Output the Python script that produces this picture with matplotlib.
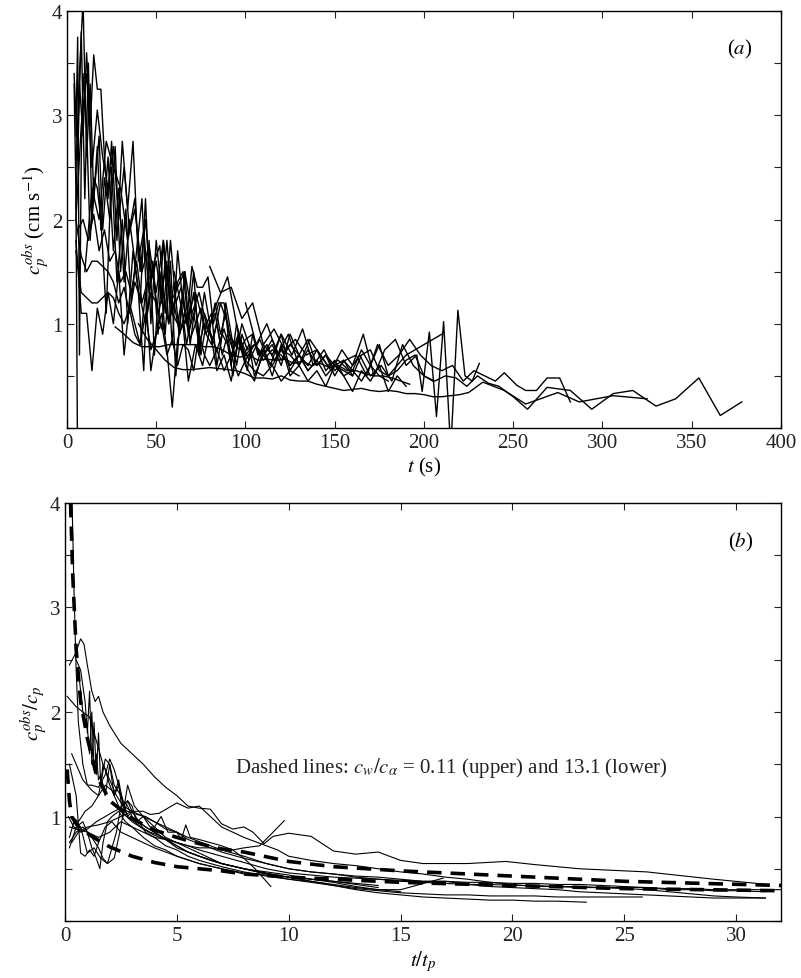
import matplotlib
matplotlib.use("Agg")
import matplotlib.pyplot as plt

plt.rcParams['font.family'] = ['Liberation Serif', 'DejaVu Serif']
plt.rcParams['mathtext.fontset'] = 'stix'
plt.rcParams['font.size'] = 13

# ---- panel (a): observed peak phase speed vs time ----
a_t = [
    [5, 7, 9, 11, 13, 15, 17, 19, 21, 24, 27, 30, 33, 36, 39, 42, 45, 48, 51, 54, 57, 60, 63, 66, 69, 72, 75, 78, 81, 84, 87, 90, 93, 96, 99, 102, 105, 110, 115, 120, 125, 130, 135, 140],
    [4, 5, 6],
    [5, 7, 9, 11, 13, 15, 17, 19, 21, 23, 25, 28, 31, 34, 37, 40, 43, 46, 49, 52, 55, 58, 61, 64, 67, 70, 73, 76, 79, 82, 85, 88, 91, 94, 97, 100, 104, 108, 112, 116, 120, 125, 130, 135, 140, 145, 150, 155, 160, 165, 170, 175, 180, 185, 190, 195, 200, 205, 210],
    [5, 8, 11, 14, 17, 20, 23, 26, 29, 32, 35, 38, 41, 44, 47, 50, 53, 56, 59, 62, 65, 68, 71, 74, 77, 80, 83, 86, 89, 92, 95, 98, 101, 105, 110, 115, 120, 125, 130, 135, 140, 145, 150, 155, 160, 165, 170, 175, 180],
    [5, 8, 11, 14, 17, 20, 23, 26, 29, 32, 35, 38, 41, 44, 47, 50, 53, 56, 59, 62, 65, 68, 71, 74, 77, 80, 84, 88, 92, 96, 100, 105, 110, 115, 120, 125, 130, 135, 140, 145, 150, 155, 160],
    [5, 8, 11, 14, 17, 20, 23, 26, 29, 32, 35, 38, 41, 44, 47, 50, 53, 56, 59, 62, 65, 68, 71, 74, 77, 80, 84, 88, 92, 96, 100, 105, 110, 115, 120, 125, 130],
    [5, 8, 11, 14, 17, 20, 23, 26, 29, 32, 35, 38, 41, 44, 47, 50, 53, 56, 59, 62, 65, 68, 72, 76, 80, 84, 88, 92, 96, 100, 105, 110, 115, 120, 125, 130, 135, 140, 145, 150, 155, 160, 165, 170, 175, 180, 185, 190],
    [27, 32, 37, 42, 47, 52, 57, 62, 67, 72, 77, 82, 87, 92, 97, 102, 107, 112, 117, 122, 127, 132, 137, 142, 147, 152, 157, 162, 167, 172, 177, 182, 187, 192],
    [40, 45, 50, 55, 60, 65, 70, 75, 80, 85, 90, 95, 100, 105, 110, 115, 120, 125, 130, 135, 140, 145, 150, 155, 160, 165, 170, 175, 180, 185, 190, 195, 200, 205, 210, 215, 220, 225, 233, 245, 257, 275, 287, 306, 325],
    [60, 66, 72, 78, 84, 90, 96, 102, 108, 114, 120, 126, 132, 138, 144, 150, 156, 162, 168, 174, 180, 186, 192, 198, 204, 210, 216, 222, 228, 234, 240, 245, 252, 257, 263, 269, 276, 282],
    [80, 86, 92, 98, 104, 110, 116, 122, 128, 134, 140, 146, 152, 158, 164, 170, 176, 182, 188, 194, 200, 206, 212, 218, 224, 230, 236, 242, 250, 258, 269, 282, 294, 306, 317, 330, 341, 354, 366, 378],
    [100, 106, 112, 118, 124, 130, 136, 142, 148, 154, 160, 166, 172, 178, 184, 190, 196, 199, 203, 207, 211, 215, 219, 223, 227, 231],
    [10, 14, 18, 22, 26, 30, 34, 38, 42, 46, 50, 54, 58, 62, 66, 70, 74, 78, 82, 86, 90, 94, 98, 102, 106, 110, 115, 120, 125, 130, 135, 140, 145, 150, 155, 160, 165, 170, 175, 180, 185, 190, 195, 200, 205],
    [4, 6, 8, 10, 12, 14, 16, 18, 20, 23, 26, 29, 32, 35, 38, 41, 44, 47, 50, 53, 56, 59, 62, 65, 68, 71, 74, 77, 80, 83, 86, 89, 92, 95, 98, 101, 104, 107, 110],
    [6, 9, 12, 15, 18, 21, 24, 27, 30, 33, 36, 39, 42, 45, 48, 51, 54, 57, 60, 63, 66, 69, 72, 75, 78, 81, 84, 87, 90, 93, 96, 100, 105, 110, 115, 120, 125, 130, 135],
    [5, 6, 7, 8, 9, 11, 13, 15, 17, 19, 22, 25, 28, 31, 34, 37, 40, 43, 46, 49, 52, 55, 58, 61, 64, 67, 70],
]
a_c = [
    [2.1, 3.4, 4.1, 2.6, 3.3, 2.2, 2.7, 1.9, 2.4, 2.0, 2.7, 1.5, 2.1, 1.2, 1.7, 2.2, 1.1, 1.6, 0.9, 1.8, 1.0, 1.4, 0.9, 1.5, 0.8, 1.2, 0.7, 1.0, 1.1, 0.6, 0.9, 0.8, 0.5, 0.9, 0.7, 0.8, 0.5, 0.7, 0.8, 0.6, 0.9, 0.7, 0.55, 0.65],
    [3.3, 2.3, -0.5],
    [2.5, 3.3, 2.8, 3.6, 2.9, 3.58, 3.25, 3.25, 2.6, 2.2, 2.75, 1.8, 2.75, 2.1, 2.75, 1.6, 1.9, 1.3, 1.6, 1.75, 1.1, 1.8, 1.2, 1.35, 1.0, 1.55, 1.35, 1.35, 1.45, 1.0, 1.2, 1.2, 0.9, 0.8, 0.75, 0.85, 0.9, 0.7, 0.8, 0.65, 0.75, 0.7, 0.6, 0.75, 0.6, 0.7, 0.6, 0.65, 0.5, 0.7, 0.75, 0.55, 0.5, 0.6, 0.7, 0.75, 0.8, 0.85, 0.9],
    [2.0, 2.9, 3.4, 2.5, 3.05, 2.6, 2.3, 2.7, 2.0, 2.5, 1.9, 2.2, 1.5, 2.0, 1.4, 1.6, 1.2, 1.8, 1.1, 1.4, 1.5, 1.0, 1.3, 0.9, 1.3, 1.0, 1.1, 0.8, 1.2, 0.9, 0.6, 0.9, 0.75, 0.8, 0.7, 0.85, 0.65, 0.8, 0.7, 0.6, 0.75, 0.55, 0.65, 0.5, 0.55, 0.45, 0.6, 0.5, 0.45],
    [2.0, 1.65, 1.5, 1.6, 1.6, 1.55, 1.5, 1.4, 1.2, 1.35, 1.1, 1.4, 1.25, 1.0, 1.3, 1.2, 0.95, 1.5, 1.1, 1.0, 1.3, 0.9, 1.1, 0.8, 1.0, 0.9, 0.75, 0.95, 0.7, 0.9, 0.65, 0.8, 0.7, 0.6, 0.75, 0.6, 0.7, 0.55, 0.65, 0.5, 0.6, 0.55, 0.5],
    [1.7, 1.3, 1.25, 1.2, 1.2, 1.25, 1.3, 1.25, 1.1, 1.0, 1.15, 0.9, 0.8, 1.1, 0.75, 0.9, 1.0, 0.7, 0.85, 0.6, 0.8, 0.75, 0.55, 0.9, 0.7, 0.6, 0.75, 0.55, 0.7, 0.5, 0.65, 0.55, 0.5, 0.6, 0.45, 0.55, 0.5],
    [1.8, 1.1, 1.1, 0.55, 1.15, 0.9, 1.3, 1.0, 1.5, 0.7, 1.2, 1.0, 0.8, 1.3, 0.55, 0.9, 1.1, 0.75, 0.2, 0.85, 1.0, 0.45, 0.8, 0.6, 0.95, 0.55, 0.7, 0.45, 0.85, 0.6, 0.45, 0.75, 0.5, 0.8, 0.5, 0.6, 0.45, 0.55, 0.4, 0.6, 0.5, 0.35, 0.55, 0.45, 0.6, 0.35, 0.5, 0.4],
    [0.97, 0.9, 0.82, 0.78, 0.78, 0.78, 0.8, 0.8, 0.8, 0.8, 0.78, 0.78, 0.75, 0.7, 0.68, 0.7, 0.65, 0.66, 0.65, 0.66, 0.62, 0.64, 0.6, 0.62, 0.58, 0.6, 0.55, 0.55, 0.52, 0.5, 0.5, 0.48, 0.45, 0.42],
    [1.0, 0.85, 0.75, 0.65, 0.58, 0.56, 0.56, 0.57, 0.58, 0.57, 0.56, 0.55, 0.52, 0.48, 0.48, 0.47, 0.5, 0.46, 0.45, 0.45, 0.42, 0.4, 0.38, 0.36, 0.37, 0.38, 0.36, 0.35, 0.36, 0.35, 0.33, 0.33, 0.32, 0.3, 0.3, 0.31, 0.32, 0.34, 0.44, 0.36, 0.23, 0.34, 0.25, 0.31, 0.28],
    [1.5, 1.0, 1.3, 0.9, 1.2, 1.45, 0.9, 0.65, 0.85, 0.6, 0.9, 0.7, 0.95, 0.6, 0.75, 0.55, 0.65, 0.7, 0.5, 0.8, 0.6, 0.7, 0.85, 0.7, 0.6, 0.55, 0.6, 0.45, 0.55, 0.5, 0.45, 0.53, 0.41, 0.36, 0.36, 0.48, 0.48, 0.25],
    [1.55, 1.3, 1.35, 1.05, 1.2, 0.8, 0.95, 0.75, 0.85, 0.7, 0.75, 0.6, 0.65, 0.55, 0.7, 0.5, 0.6, 0.45, 0.8, 0.6, 0.5, 0.45, 0.5, 0.48, 0.4, 0.5, 0.43, 0.4, 0.3, 0.18, 0.39, 0.36, 0.18, 0.33, 0.36, 0.21, 0.28, 0.48, 0.12, 0.25],
    [1.2, 0.8, 1.0, 0.7, 0.9, 0.6, 0.85, 0.7, 0.55, 0.75, 0.6, 0.9, 0.5, 0.75, 0.85, 0.6, 0.7, 0.35, 0.92, 0.11, 1.02, -0.2, 1.13, 0.5, 0.45, 0.62],
    [1.5, 2.3, 2.0, 2.75, 2.5, 2.3, 1.8, 2.1, 1.5, 1.75, 1.3, 1.8, 1.2, 1.35, 1.5, 1.1, 1.3, 1.0, 0.85, 1.2, 1.0, 0.65, 1.0, 0.8, 0.6, 0.8, 0.7, 0.9, 0.55, 0.7, 0.85, 0.6, 0.7, 0.5, 0.65, 0.55, 0.75, 0.6, 0.8, 0.5, 0.55, 0.65, 0.7, 0.5, 0.45],
    [3.4, 2.6, 3.8, 2.2, 3.5, 2.0, 2.4, 2.8, 1.9, 2.6, 1.7, 2.3, 1.4, 2.0, 1.6, 1.2, 2.2, 1.0, 1.8, 1.3, 1.6, 0.8, 1.7, 1.2, 1.0, 1.5, 0.7, 1.1, 0.95, 1.2, 0.9, 1.1, 0.6, 1.0, 0.8, 0.55, 0.9, 0.7, 0.75],
    [1.9, 2.0, 1.8, 2.05, 1.7, 1.9, 1.6, 1.7, 1.4, 1.5, 1.3, 1.6, 1.2, 1.4, 1.5, 1.1, 1.3, 1.0, 1.2, 0.9, 1.1, 0.85, 1.0, 1.15, 0.9, 0.8, 1.0, 0.7, 0.9, 0.75, 0.85, 0.7, 0.8, 0.65, 0.75, 0.7, 0.6, 0.7, 0.6],
    [2.8, 3.75, 0.7, 2.6, 3.4, 2.9, 1.8, 2.4, 2.3, 2.0, 1.1, 2.5, 1.4, 2.0, 1.0, 1.7, 1.3, 0.55, 1.8, 0.7, 1.5, 0.9, 1.6, 0.5, 1.2, 0.8, 1.1],
]

# ---- panel (b): normalised speed vs t/t_p ----
b_t = [
    [0.2, 0.45, 0.7, 0.85, 1.0, 1.2, 1.35, 1.5, 1.7, 2.0, 2.5, 3.0, 3.5, 4.0, 4.5, 5.0, 5.5, 6.0, 6.5, 7.0, 7.5, 8.0, 8.4, 8.9, 9.3, 10.0, 11.0, 12.0, 13.0, 14.0, 15.0, 16, 18, 19.7, 21, 23, 26, 29, 31.4],
    [0.2, 0.5, 1.0, 1.5, 2, 2.5, 3, 3.5, 4, 4.5, 5, 5.5, 6, 6.5, 7, 7.5, 8, 8.7, 9.3, 9.8],
    [0.1, 0.5, 0.8, 1.1, 1.3, 1.5, 1.7, 2.0, 2.3, 2.6, 3.0, 3.5, 4.0, 4.5, 5.0, 5.5, 6.0, 7, 8, 9, 10, 11, 12, 13, 14, 15, 16, 17, 18, 19, 20, 21, 22, 23, 24, 25, 26, 27, 28, 29, 30, 31.3],
    [0.5, 0.7, 0.9, 1.0, 1.1, 1.2, 1.3, 1.4, 1.5, 1.6, 1.7, 1.8, 2.0, 2.2, 2.4, 2.6, 2.8, 3.0, 3.3, 3.6, 4.0, 4.5, 5.0, 5.5, 6.0, 6.5, 7.0, 8, 9, 10, 11, 12, 13, 14],
    [0.3, 0.5, 0.8, 1.0, 1.2, 1.5, 1.8, 2.0, 2.2, 2.4, 2.6, 2.8, 3.0, 3.3, 3.6, 4.0, 4.5, 5.0, 5.5, 6, 7, 8, 9, 10, 11, 12, 13, 14, 15, 16, 17, 18, 19, 20, 21, 22, 23.3],
    [0.2, 0.5, 0.8, 1.0, 1.2, 1.5, 1.7, 1.9, 2.1, 2.3, 2.5, 2.8, 3.0, 3.3, 3.6, 4.0, 4.5, 5.0, 5.5, 6, 7, 8, 9, 10, 11, 12, 13, 14, 15, 16, 17, 18, 19, 20, 21, 22, 23, 24, 25, 25.8],
    [0.2, 0.4, 0.7, 1.0, 1.3, 1.6, 1.9, 2.2, 2.5, 2.8, 3.1, 3.5, 4.0, 4.5, 5, 5.5, 6, 6.5, 7, 8, 9, 10, 11, 12, 13, 14, 15, 16.9],
    [0.15, 0.4, 0.7, 1.0, 1.4, 1.8, 2.2, 2.5, 2.8, 3.2, 3.6, 4.0, 4.5, 5, 5.2, 5.4, 5.6, 6, 6.5, 7, 7.5, 8, 8.5, 9.2],
    [0.3, 0.6, 1.0, 1.5, 2.0, 2.5, 3.0, 3.5, 3.8, 4.2, 4.6, 5.0, 5.5, 6.0, 6.5, 7.0, 7.5, 8.0, 8.5, 9, 9.5, 10, 11, 12, 13, 14, 15, 16, 17, 18, 19, 20, 21, 22, 23, 24, 25, 26, 27, 28, 29, 30, 31.3],
    [0.6, 0.8, 1.0, 1.1, 1.2, 1.3, 1.4, 1.5, 1.6, 1.8, 2.0, 2.2, 2.4, 2.6, 2.8, 3.0, 3.2, 3.5, 3.8, 4.0, 4.3, 4.6, 5, 5.5, 6, 7, 8, 9, 10, 11, 12, 13, 14, 15, 16, 17, 18, 19, 20, 21, 22, 23, 24, 25, 26, 27, 28, 29, 30, 31, 32],
    [0.3, 0.6, 0.9, 1.2, 1.5, 1.8, 2.0, 2.2, 2.5, 2.8, 3.1, 3.4, 3.8, 4.2, 4.6, 5, 5.5, 6, 7, 8, 9, 10, 11, 12, 13, 14, 15, 16, 17, 18, 19, 20, 21, 22, 23, 24, 25, 26, 27, 28, 29, 30, 31.3],
    [0.3, 0.4, 0.5, 0.6, 0.8, 1.0, 1.2, 1.5, 1.8, 2.1, 2.5, 3, 3.5, 4, 4.5, 5, 6, 7, 8, 9, 10, 11, 12, 13, 14, 15],
    [0.2, 0.5, 0.8, 1.0, 1.2, 1.4, 1.56, 1.7, 1.9, 2.1, 2.4, 2.7, 3.0, 3.5, 4, 4.5, 5, 6, 7, 8],
    [0.2, 0.5, 0.7, 0.9, 1.1, 1.3, 1.5, 1.8, 2.1, 2.5, 3, 3.5, 4, 5, 6, 7, 8, 9, 10, 11, 12, 13, 14],
]
b_c = [
    [2.45, 2.55, 2.7, 2.65, 2.45, 2.2, 2.1, 2.15, 2.0, 1.87, 1.7, 1.6, 1.5, 1.38, 1.28, 1.2, 1.1, 1.08, 1.07, 0.93, 0.88, 0.9, 0.85, 0.74, 0.81, 0.84, 0.81, 0.67, 0.64, 0.66, 0.58, 0.55, 0.55, 0.57, 0.54, 0.5, 0.47, 0.4, 0.35],
    [0.9, 0.88, 0.85, 0.8, 0.85, 0.95, 0.9, 0.85, 0.8, 0.78, 0.75, 0.72, 0.7, 0.7, 0.68, 0.68, 0.7, 0.72, 0.85, 0.96],
    [2.15, 2.05, 2.0, 1.95, 1.8, 1.65, 1.5, 1.35, 1.2, 1.1, 1.05, 1.0, 0.95, 0.88, 0.85, 0.8, 0.76, 0.68, 0.62, 0.55, 0.5, 0.47, 0.45, 0.43, 0.42, 0.4, 0.38, 0.38, 0.35, 0.33, 0.32, 0.31, 0.3, 0.28, 0.27, 0.26, 0.25, 0.24, 0.23, 0.22, 0.22, 0.22],
    [2.5, 2.4, 2.1, 1.8, 2.2, 1.5, 1.9, 1.4, 1.8, 1.3, 1.5, 1.45, 1.3, 1.2, 1.35, 1.1, 1.0, 1.05, 0.95, 0.9, 0.85, 0.78, 0.72, 0.66, 0.62, 0.58, 0.55, 0.5, 0.47, 0.44, 0.4, 0.38, 0.35, 0.32],
    [1.6, 1.5, 1.35, 1.3, 1.3, 1.28, 1.4, 1.55, 1.45, 1.3, 1.15, 1.1, 1.0, 0.95, 0.9, 0.85, 0.78, 0.72, 0.66, 0.62, 0.55, 0.5, 0.46, 0.42, 0.38, 0.34, 0.3, 0.27, 0.25, 0.23, 0.22, 0.21, 0.2, 0.2, 0.19, 0.19, 0.18],
    [0.7, 0.9, 0.95, 0.85, 0.8, 0.7, 0.6, 0.55, 0.7, 0.85, 1.1, 1.15, 1.05, 0.95, 0.85, 0.8, 0.72, 0.68, 0.62, 0.58, 0.52, 0.47, 0.43, 0.4, 0.37, 0.34, 0.31, 0.29, 0.27, 0.26, 0.25, 0.25, 0.24, 0.24, 0.24, 0.23, 0.23, 0.23, 0.23, 0.23],
    [0.8, 0.95, 0.9, 0.65, 0.7, 0.6, 0.55, 0.6, 0.9, 1.3, 1.1, 1.0, 0.9, 0.8, 0.75, 0.7, 0.65, 0.6, 0.55, 0.5, 0.45, 0.4, 0.38, 0.35, 0.32, 0.3, 0.3, 0.41],
    [1.0, 0.9, 0.85, 0.88, 0.95, 1.0, 1.05, 1.08, 1.05, 1.02, 1.0, 0.95, 0.9, 0.85, 0.78, 0.92, 0.8, 0.78, 0.75, 0.72, 0.68, 0.6, 0.5, 0.33],
    [0.75, 0.85, 0.9, 0.92, 0.95, 1.0, 1.05, 1.05, 1.02, 1.03, 1.08, 1.13, 1.08, 1.1, 1.0, 0.9, 0.85, 0.8, 0.76, 0.72, 0.68, 0.62, 0.58, 0.55, 0.53, 0.5, 0.47, 0.45, 0.42, 0.4, 0.37, 0.35, 0.33, 0.33, 0.32, 0.32, 0.31, 0.3, 0.28, 0.26, 0.24, 0.23, 0.22],
    [2.4, 2.0, 1.85, 1.6, 2.0, 1.45, 1.6, 1.35, 1.4, 1.2, 1.5, 1.2, 1.3, 1.0, 1.15, 1.1, 0.95, 1.0, 0.9, 0.9, 1.0, 0.85, 0.85, 0.78, 0.74, 0.66, 0.6, 0.55, 0.5, 0.47, 0.45, 0.42, 0.4, 0.38, 0.37, 0.36, 0.35, 0.35, 0.34, 0.34, 0.33, 0.33, 0.32, 0.32, 0.32, 0.31, 0.31, 0.3, 0.3, 0.3, 0.3],
    [1.0, 0.95, 1.05, 1.1, 1.2, 1.55, 1.5, 1.3, 1.2, 1.0, 0.95, 0.9, 0.85, 0.82, 0.78, 0.75, 0.72, 0.68, 0.62, 0.56, 0.5, 0.46, 0.44, 0.42, 0.41, 0.4, 0.39, 0.38, 0.38, 0.37, 0.37, 0.36, 0.36, 0.35, 0.35, 0.34, 0.33, 0.32, 0.3, 0.3, 0.29, 0.29, 0.28],
    [4.2, 3.2, 2.4, 1.9, 1.5, 1.3, 1.25, 1.2, 1.3, 1.25, 1.05, 0.95, 0.88, 0.82, 0.78, 0.7, 0.62, 0.55, 0.5, 0.45, 0.42, 0.4, 0.37, 0.33, 0.3, 0.28],
    [0.75, 0.85, 0.9, 0.85, 0.7, 0.6, 0.5, 0.75, 0.95, 1.0, 1.05, 0.95, 0.9, 0.8, 0.72, 0.68, 0.62, 0.55, 0.5, 0.45],
    [1.5, 1.2, 0.65, 0.62, 0.68, 0.62, 0.75, 0.9, 0.95, 0.85, 0.8, 0.75, 0.7, 0.62, 0.55, 0.5, 0.46, 0.44, 0.42, 0.4, 0.38, 0.36, 0.34],
]

# model curves (dashed): c_w/c_alpha = 0.11 (upper) and 13.1 (lower)
up_t = [0.25, 0.35, 0.5, 0.7, 1.0, 1.4, 2, 3, 4, 5, 6, 7, 8, 10, 12, 15, 20, 25, 32]
up_c = [4.0, 3.3, 2.6, 2.1, 1.75, 1.4, 1.15, 0.98, 0.87, 0.8, 0.74, 0.69, 0.66, 0.57, 0.52, 0.48, 0.43, 0.38, 0.34]
lo_t = [0.1, 0.2, 0.3, 0.6, 1, 1.5, 2, 3, 4, 5, 6, 7, 8, 10, 12, 15, 20, 25, 32]
lo_c = [1.45, 1.15, 1.0, 0.9, 0.84, 0.77, 0.71, 0.62, 0.56, 0.52, 0.5, 0.48, 0.45, 0.42, 0.4, 0.37, 0.34, 0.31, 0.29]

yticks = [0, 0.5, 1, 1.5, 2, 2.5, 3, 3.5, 4]
ylabels = ['', '', '1', '', '2', '', '3', '', '4']

fig = plt.figure(figsize=(8.01, 9.79), dpi=100)
ax1 = fig.add_axes([0.0836, 0.5618, 0.8914, 0.4259])
ax2 = fig.add_axes([0.0811, 0.0582, 0.8939, 0.427])

for t, c in zip(a_t, a_c):
    ax1.plot(t, c, color='black', lw=1.0)
for t, c in zip(b_t, b_c):
    ax2.plot(t, c, color='black', lw=0.8)
ax2.plot(up_t, up_c, color='black', lw=2.6, dashes=(4, 2.5))
ax2.plot(lo_t, lo_c, color='black', lw=2.6, dashes=(4, 2.5))

for ax in (ax1, ax2):
    ax.set_yticks(yticks)
    ax.set_yticklabels(ylabels)
    ax.set_ylim(0, 4)
    ax.tick_params(direction='in', top=True, right=True, length=5, width=0.8,
                   labelsize=15, colors='#222222')
    for s in ax.spines.values():
        s.set_linewidth(1.0)

ax1.set_xticks(range(0, 401, 50))
ax1.set_xlim(0, 400)
ax2.set_xticks(range(0, 31, 5))
ax2.set_xlim(0, 32)

ax1.set_xlabel('$t$ (s)', fontsize=15, labelpad=2)
ax1.set_ylabel(r'$c_p^{obs}$ (cm s$^{-1}$)', fontsize=15, labelpad=0)
ax2.set_xlabel('$t/t_p$', fontsize=15, labelpad=2)
ax2.set_ylabel(r'$c_p^{obs}/c_p$', fontsize=15, labelpad=0)

ax1.text(377, 3.64, '($a$)', fontsize=15, ha='center', va='center')
ax2.text(30.2, 3.63, '($b$)', fontsize=15, ha='center', va='center')
ax2.text(7.6, 1.47, r'Dashed lines: $c_w/c_\alpha$ = 0.11 (upper) and 13.1 (lower)',
         fontsize=15, ha='left', va='center', color='#222222')

fig.savefig('out.png', dpi=100)
